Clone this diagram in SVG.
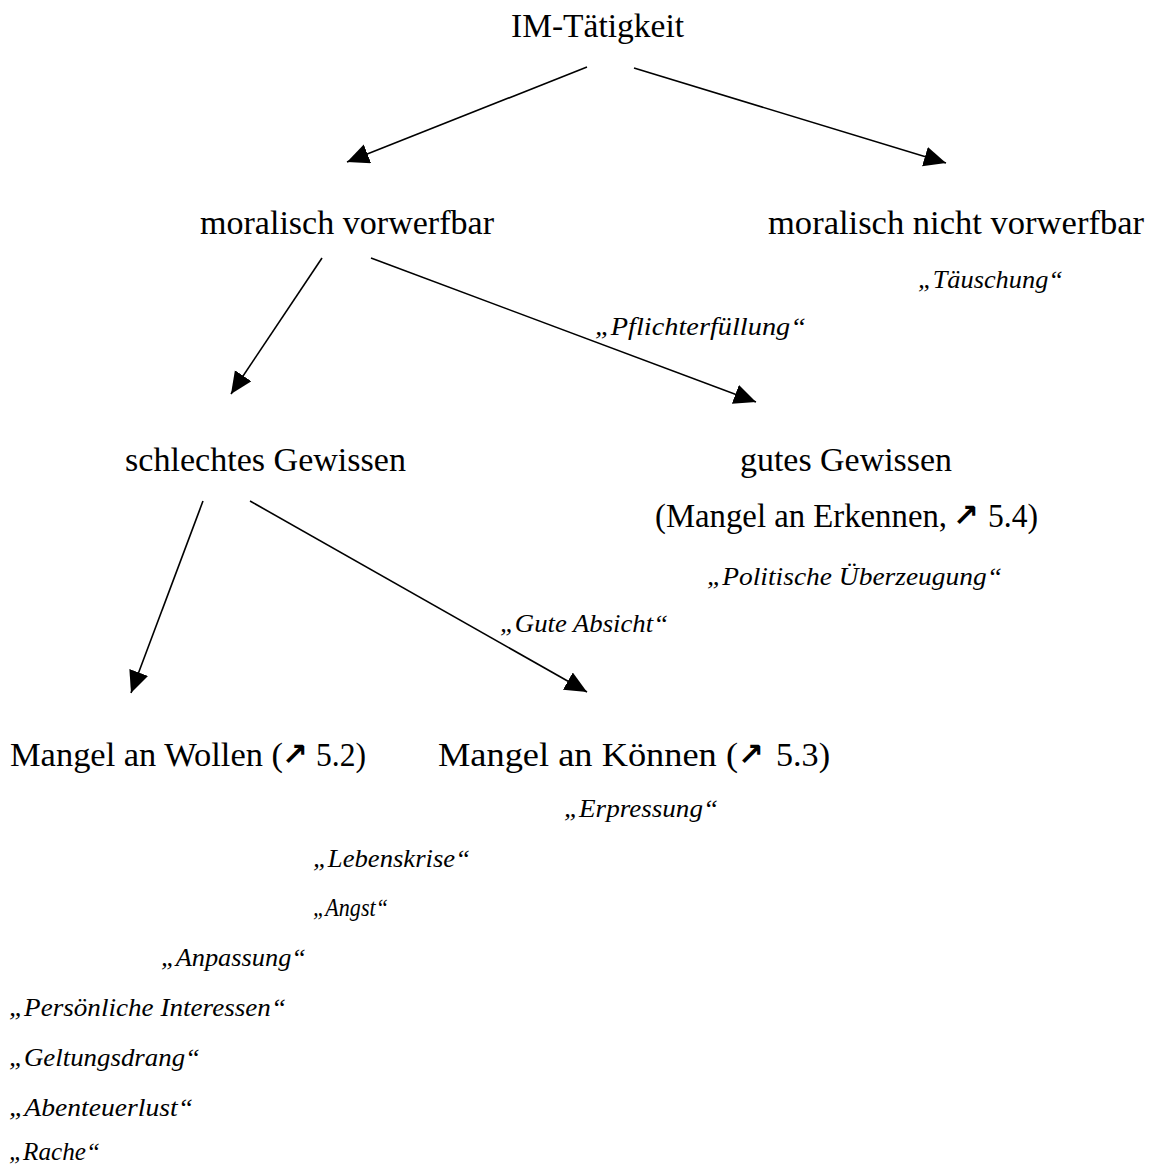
<svg xmlns="http://www.w3.org/2000/svg" width="1152" height="1164" viewBox="0 0 1152 1164">
<style>
.r{font-family:"Liberation Serif","DejaVu Serif",serif;font-size:33px;fill:#000}
.i{font-family:"Liberation Serif","DejaVu Serif",serif;font-size:26px;font-style:italic;fill:#000}
.a{font-family:"DejaVu Sans",sans-serif;font-weight:bold;font-size:31px;fill:#000}
.c{stroke:#000;stroke-width:1.6;fill:none;marker-end:url(#ah)}
</style>
<defs>
<marker id="ah" markerUnits="userSpaceOnUse" markerWidth="24" markerHeight="22" refX="22" refY="10" orient="auto">
<path d="M0,0 L22,10 L0,20 z" fill="#000"/>
</marker>
</defs>
<rect width="1152" height="1164" fill="#fff"/>
<g id="connectors">
<line class="c" x1="587" y1="67" x2="347" y2="162"/>
<line class="c" x1="634" y1="68" x2="946" y2="163"/>
<line class="c" x1="322" y1="258" x2="231" y2="394"/>
<line class="c" x1="371" y1="258" x2="756" y2="402"/>
<line class="c" x1="203" y1="501" x2="131" y2="693"/>
<line class="c" x1="250" y1="501" x2="587" y2="692"/>
</g>
<g id="n-im"><text class="r" x="511" y="37" textLength="173" lengthAdjust="spacingAndGlyphs">IM-Tätigkeit</text></g>
<g id="n-mv"><text class="r" x="200" y="234" textLength="294" lengthAdjust="spacingAndGlyphs">moralisch vorwerfbar</text></g>
<g id="n-mnv"><text class="r" x="768" y="234" textLength="376" lengthAdjust="spacingAndGlyphs">moralisch nicht vorwerfbar</text>
<text class="i" x="918" y="288" textLength="145" lengthAdjust="spacingAndGlyphs">„Täuschung“</text></g>
<g id="l-pf"><text class="i" x="595" y="335" textLength="211" lengthAdjust="spacingAndGlyphs">„Pflichterfüllung“</text></g>
<g id="n-sg"><text class="r" x="125" y="471" textLength="281" lengthAdjust="spacingAndGlyphs">schlechtes Gewissen</text></g>
<g id="n-gg"><text class="r" x="740" y="471" textLength="212" lengthAdjust="spacingAndGlyphs">gutes Gewissen</text>
<text class="r" x="655" y="527" textLength="292" lengthAdjust="spacingAndGlyphs">(Mangel an Erkennen,</text>
<text class="a" x="953" y="526">↗</text>
<text class="r" x="988" y="527" textLength="50" lengthAdjust="spacingAndGlyphs">5.4)</text>
<text class="i" x="707" y="585" textLength="295" lengthAdjust="spacingAndGlyphs">„Politische Überzeugung“</text></g>
<g id="l-ga"><text class="i" x="500" y="632" textLength="168" lengthAdjust="spacingAndGlyphs">„Gute Absicht“</text></g>
<g id="n-mw"><text class="r" x="10" y="766" textLength="273" lengthAdjust="spacingAndGlyphs">Mangel an Wollen (</text>
<text class="a" x="282" y="765">↗</text>
<text class="r" x="316" y="766" textLength="50" lengthAdjust="spacingAndGlyphs">5.2)</text>
<text class="i" x="313" y="867" textLength="157" lengthAdjust="spacingAndGlyphs">„Lebenskrise“</text>
<text class="i" x="313" y="916" textLength="75" lengthAdjust="spacingAndGlyphs">„Angst“</text>
<text class="i" x="161" y="966" textLength="145" lengthAdjust="spacingAndGlyphs">„Anpassung“</text>
<text class="i" x="9" y="1016" textLength="277" lengthAdjust="spacingAndGlyphs">„Persönliche Interessen“</text>
<text class="i" x="9" y="1066" textLength="191" lengthAdjust="spacingAndGlyphs">„Geltungsdrang“</text>
<text class="i" x="9" y="1116" textLength="184" lengthAdjust="spacingAndGlyphs">„Abenteuerlust“</text>
<text class="i" x="9" y="1160" textLength="91" lengthAdjust="spacingAndGlyphs">„Rache“</text></g>
<g id="n-mk"><text class="r" x="438" y="766" textLength="300" lengthAdjust="spacingAndGlyphs">Mangel an Können (</text>
<text class="a" x="738" y="765">↗</text>
<text class="r" x="776" y="766" textLength="54" lengthAdjust="spacingAndGlyphs">5.3)</text>
<text class="i" x="564" y="817" textLength="154" lengthAdjust="spacingAndGlyphs">„Erpressung“</text></g>
</svg>
